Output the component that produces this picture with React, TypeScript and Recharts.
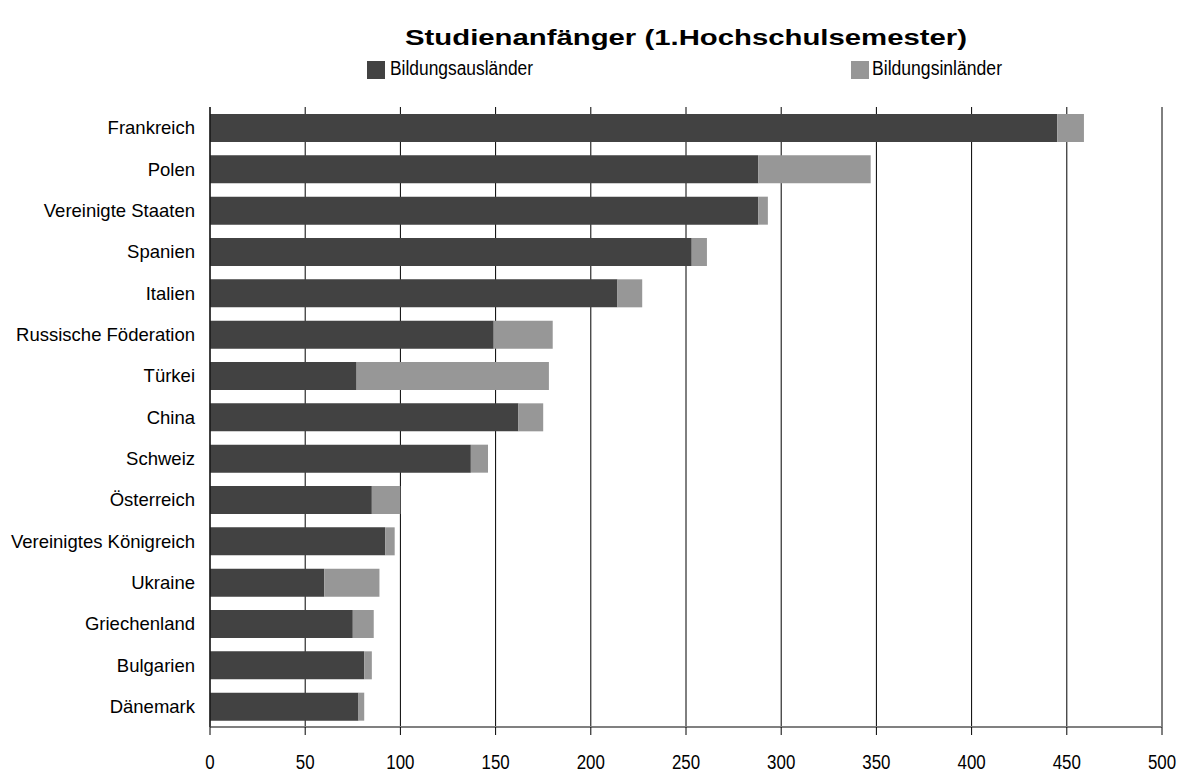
import React from 'react';
import { Bar, BarChart, CartesianGrid, Legend, XAxis, YAxis } from 'recharts';

const countries = [
  'Frankreich',
  'Polen',
  'Vereinigte Staaten',
  'Spanien',
  'Italien',
  'Russische Föderation',
  'Türkei',
  'China',
  'Schweiz',
  'Österreich',
  'Vereinigtes Königreich',
  'Ukraine',
  'Griechenland',
  'Bulgarien',
  'Dänemark',
];

// Bildungsausländer (dark) and Bildungsinländer (light, stacked on top)
const auslaender = [445, 288, 288, 253, 214, 149, 77, 162, 137, 85, 92, 60, 75, 81, 78];
const inlaender = [14, 59, 5, 8, 13, 31, 101, 13, 9, 15, 5, 29, 11, 4, 3];

const xTicks = [0, 50, 100, 150, 200, 250, 300, 350, 400, 450, 500];

const DARK = '#424242';
const LIGHT = '#979797';
const FONT = '"Liberation Sans", Arial, sans-serif';

const data = countries.map((name, i) => ({
  name,
  aus: auslaender[i],
  inl: inlaender[i],
}));

// axis numbers in the original are a condensed Arial
function XTick({ x, y, payload }: any) {
  const label = String(payload.value);
  return (
    <text
      x={x}
      y={y + 32}
      textAnchor='middle'
      fontSize={20}
      fontFamily={FONT}
      fill='#000'
      textLength={label.length * 9.4}
      lengthAdjust='spacingAndGlyphs'
    >
      {label}
    </text>
  );
}

function Header() {
  return (
    <svg width={1186} height={100}>
      <text
        x={686}
        y={45}
        textAnchor='middle'
        fontSize={22}
        fontWeight='bold'
        fontFamily={FONT}
        fill='#000'
        textLength={562}
        lengthAdjust='spacingAndGlyphs'
      >
        Studienanfänger (1.Hochschulsemester)
      </text>
      <rect x={367} y={61} width={18} height={18} fill={DARK} />
      <text
        x={390}
        y={75}
        fontSize={20}
        fontFamily={FONT}
        fill='#000'
        textLength={143}
        lengthAdjust='spacingAndGlyphs'
      >
        Bildungsausländer
      </text>
      <rect x={851} y={61} width={18} height={18} fill={LIGHT} />
      <text
        x={872}
        y={75}
        fontSize={20}
        fontFamily={FONT}
        fill='#000'
        textLength={130}
        lengthAdjust='spacingAndGlyphs'
      >
        Bildungsinländer
      </text>
    </svg>
  );
}

export default function App() {
  return (
    <div style={{ position: 'absolute', left: 0, top: 0, background: '#fff' }}>
      <BarChart
        width={1186}
        height={775}
        data={data}
        layout='vertical'
        margin={{ top: 107, right: 24, bottom: 0, left: 0 }}
      >
        <CartesianGrid horizontal={false} stroke='#000' strokeWidth={1} />
        <XAxis
          type='number'
          domain={[0, 500]}
          ticks={xTicks}
          interval={0}
          height={48}
          axisLine={{ stroke: '#808080', strokeWidth: 2 }}
          tickLine={{ stroke: '#000' }}
          tickSize={8}
          tickMargin={2}
          tick={<XTick />}
        />
        <YAxis
          type='category'
          dataKey='name'
          width={210}
          axisLine={{ stroke: '#000' }}
          tickLine={false}
          tickSize={0}
          tickMargin={15}
          interval={0}
          tick={{ fontSize: 18.5, fontFamily: FONT, fill: '#000' }}
        />
        <Legend
          layout='horizontal'
          verticalAlign='middle'
          content={<Header />}
          wrapperStyle={{ position: 'absolute', left: 0, top: 0, width: 1186, height: 100 }}
        />
        <Bar dataKey='aus' stackId='a' fill={DARK} barSize={28} isAnimationActive={false} />
        <Bar dataKey='inl' stackId='a' fill={LIGHT} barSize={28} isAnimationActive={false} />
      </BarChart>
    </div>
  );
}
